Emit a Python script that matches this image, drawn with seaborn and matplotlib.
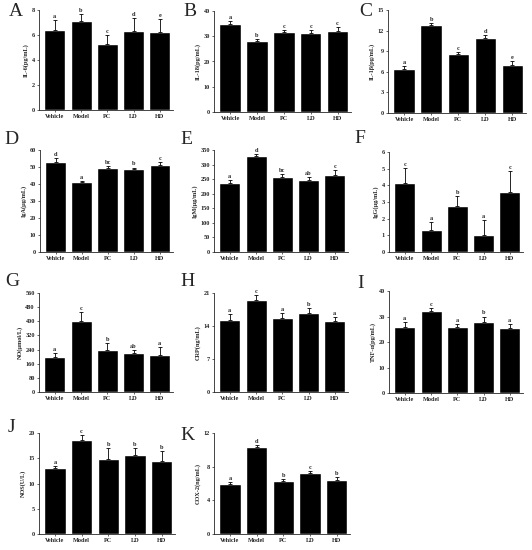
import numpy as np
import pandas as pd
import seaborn as sns
import matplotlib
matplotlib.use("Agg")
import matplotlib.pyplot as plt

groups = ["Vehicle", "Model", "PC", "LD", "HD"]

# panel data: means, upper error, letters
il6_mean = [6.4, 7.1, 5.3, 6.35, 6.25]
il6_err = [0.8, 0.6, 0.7, 1.0, 1.0]
il6_sig = ["a", "b", "c", "d", "e"]

il18_mean = [35.0, 28.0, 31.5, 31.3, 32.2]
il18_err = [1.0, 1.0, 1.0, 1.2, 1.3]
il18_sig = ["a", "b", "c", "c", "c"]

il1b_mean = [6.4, 12.8, 8.6, 10.9, 7.0]
il1b_err = [0.5, 0.3, 0.3, 0.4, 0.6]
il1b_sig = ["a", "b", "c", "d", "e"]

iga_mean = [53.0, 41.0, 49.3, 48.7, 51.3]
iga_err = [2.5, 1.0, 1.2, 1.0, 1.5]
iga_sig = ["d", "a", "bc", "b", "c"]

igm_mean = [237, 330, 259, 246, 265]
igm_err = [10, 6, 10, 10, 15]
igm_sig = ["a", "d", "bc", "ab", "c"]

igg_mean = [4.15, 1.3, 2.75, 1.05, 3.6]
igg_err = [0.9, 0.5, 0.6, 0.85, 1.25]
igg_sig = ["c", "a", "b", "a", "c"]

no_mean = [200, 400, 240, 220, 210]
no_err = [20, 50, 40, 20, 45]
no_sig = ["a", "c", "b", "ab", "a"]

crp_mean = [15.2, 19.6, 15.7, 16.8, 15.1]
crp_err = [1.3, 1.0, 1.0, 1.0, 0.9]
crp_sig = ["a", "c", "a", "b", "a"]

tnf_mean = [26.0, 32.0, 26.0, 28.0, 25.5]
tnf_err = [1.8, 1.5, 1.0, 2.0, 1.6]
tnf_sig = ["a", "c", "a", "b", "a"]

nos_mean = [13.0, 18.7, 14.8, 15.7, 14.5]
nos_err = [0.5, 1.0, 2.2, 1.3, 2.0]
nos_sig = ["a", "c", "b", "b", "b"]

cox_mean = [6.0, 10.3, 6.3, 7.2, 6.4]
cox_err = [0.2, 0.3, 0.2, 0.3, 0.4]
cox_sig = ["a", "d", "b", "c", "b"]

# letter, ylabel, data..., ymax, tick step, axes box (px), panel letter centre (px)
panels = [
    ("A", "IL-6(pg/mL)", il6_mean, il6_err, il6_sig, 8, 2, (39, 10, 173, 110), (16, 12)),
    ("B", "IL-18(pg/mL)", il18_mean, il18_err, il18_sig, 40, 10, (214, 11, 351, 112), (190, 12)),
    ("C", "IL-1β(pg/mL)", il1b_mean, il1b_err, il1b_sig, 15, 3, (388, 10, 526, 113), (366, 11)),
    ("D", "IgA(μg/mL)", iga_mean, iga_err, iga_sig, 60, 10, (40, 150, 173, 252), (11, 140)),
    ("E", "IgM(μg/mL)", igm_mean, igm_err, igm_sig, 350, 50, (214, 150, 348, 252), (186, 140)),
    ("F", "IgG(μg/mL)", igg_mean, igg_err, igg_sig, 6, 1, (389, 152, 523, 252), (360, 138)),
    ("G", "NO(μmol/L)", no_mean, no_err, no_sig, 560, 80, (39, 293, 173, 392), (12, 282)),
    ("H", "CRP(ng/mL)", crp_mean, crp_err, crp_sig, 21, 7, (214, 293, 348, 392), (188, 282)),
    ("I", "TNF-α(pg/mL)", tnf_mean, tnf_err, tnf_sig, 40, 10, (389, 291, 523, 393), (361, 284)),
    ("J", "NOS(U/L)", nos_mean, nos_err, nos_sig, 20, 5, (39, 433, 175, 534), (11, 427)),
    ("K", "COX-2(ng/mL)", cox_mean, cox_err, cox_sig, 12, 4, (214, 433, 350, 534), (187, 436)),
]

W, H = 532, 550
sns.set_style("ticks")
plt.rcParams["font.family"] = ["Liberation Serif", "DejaVu Serif"]
fig = plt.figure(figsize=(W / 100, H / 100), dpi=100)

for letter, ylabel, mean, err, sig, ymax, step, (x0, y0, x1, y1), (lx, ly) in panels:
    ax = fig.add_axes([x0 / W, 1 - y1 / H, (x1 - x0) / W, (y1 - y0) / H])
    df = pd.DataFrame({"group": groups, "value": mean})
    sns.barplot(data=df, x="group", y="value", color="black", width=0.8,
                saturation=1, ax=ax, errorbar=None)
    xs = np.arange(len(groups))
    ax.errorbar(xs, mean, yerr=[np.zeros(len(err)), err], fmt="none",
                ecolor="black", elinewidth=0.6, capsize=1.5, capthick=0.6)
    for x, m, e, s in zip(xs, mean, err, sig):
        ax.text(x, m + e + ymax * 0.01, s, ha="center", va="bottom",
                fontsize=4.5, fontweight="bold")
    ax.set_xlim(-0.6, 4.5)
    ax.set_ylim(0, ymax)
    ax.set_yticks(np.arange(0, ymax + step * 0.5, step))
    ax.set_xlabel("")
    ax.set_ylabel(ylabel, fontsize=4.5, fontweight="bold", labelpad=2)
    ax.tick_params(axis="both", labelsize=4.5, length=1.5, width=0.5, pad=1.5)
    for lab in ax.get_xticklabels() + ax.get_yticklabels():
        lab.set_fontweight("bold")
    for sp in ["left", "bottom"]:
        ax.spines[sp].set_linewidth(0.6)
    sns.despine(ax=ax)
    fig.text(lx / W, 1 - ly / H, letter, fontsize=14, ha="center", va="center")

fig.savefig("out.png", dpi=100)
